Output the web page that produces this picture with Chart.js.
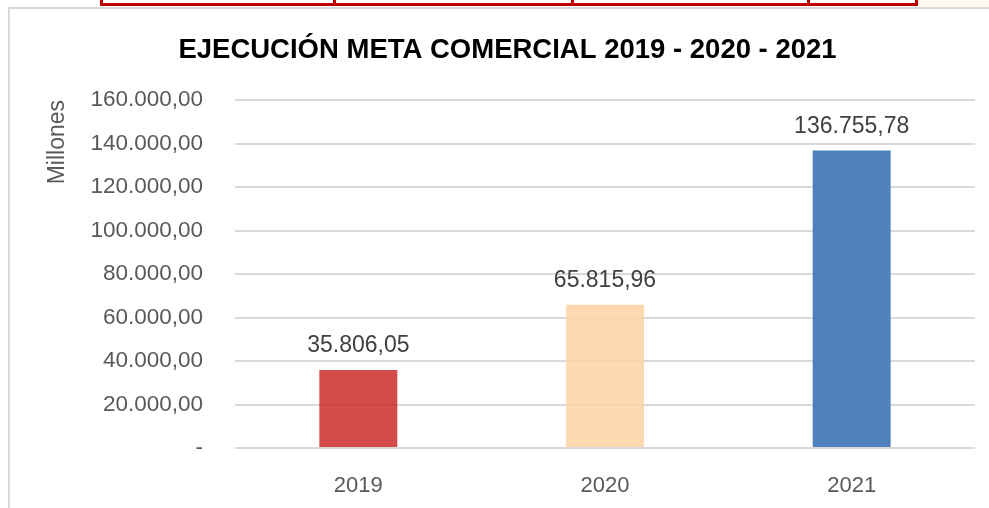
<!DOCTYPE html>
<html>
<head>
<meta charset="utf-8">
<script src="https://cdn.jsdelivr.net/npm/chart.js@4.4.0/dist/chart.umd.min.js"></script>
<style>
    html, body { margin: 0; padding: 0; background: #fff; }
    .wrap { position: relative; width: 989px; height: 508px; overflow: hidden; }
    .frame { position: absolute; left: 8px; top: 7px; width: 1000px; height: 520px; border-left: 2px solid #d9d9d9; border-top: 2px solid #d9d9d9; }
    .beige { position: absolute; left: 915px; top: 0; width: 80px; height: 7px; background: #fdf9ef; }
    .tbl { position: absolute; left: 100px; top: -10px; width: 812px; height: 13px; border: 3px solid #c00000; border-top: none; }
    .cell { position: absolute; top: -10px; width: 3px; height: 16px; background: #c00000; }
    canvas { position: absolute; left: 0; top: 0; }
</style>
</head>
<body>
<div class="wrap">
    <div class="beige"></div>
    <div class="frame"></div>
    <div class="tbl"></div>
    <div class="cell" style="left:333px"></div>
    <div class="cell" style="left:571px"></div>
    <div class="cell" style="left:807px"></div>
    <canvas id="metaChart" width="989" height="508"></canvas>
</div>
<script>
const years = ["2019", "2020", "2021"];
const ejecucion = [35806.05, 65815.96, 136755.78];
const barColors = ["rgba(204, 44, 44, 0.85)", "rgba(253, 209, 162, 0.85)", "#4f81bd"];
const yTickLabels = ["-", "20.000,00", "40.000,00", "60.000,00", "80.000,00", "100.000,00", "120.000,00", "140.000,00", "160.000,00"];

const fam = "'Liberation Sans', Arial, sans-serif";

function fmt(v) {
    const parts = v.toFixed(2).split(".");
    return parts[0].replace(/\B(?=(\d{3})+(?!\d))/g, ".") + "," + parts[1];
}

// etiquetas de valor encima de cada barra
const valueLabels = {
    id: "valueLabels",
    afterDatasetsDraw(chart) {
        const ctx = chart.ctx;
        const meta = chart.getDatasetMeta(0);
        ctx.save();
        ctx.font = "23px " + fam;
        ctx.fillStyle = "#404040";
        ctx.textAlign = "center";
        ctx.textBaseline = "alphabetic";
        meta.data.forEach((bar, i) => {
            ctx.fillText(fmt(ejecucion[i]), bar.x, bar.y - 18);
        });
        ctx.restore();
    }
};

const ctx = document.getElementById("metaChart").getContext("2d");

new Chart(ctx, {
    type: "bar",
    data: {
        labels: years,
        datasets: [{
            label: "Ejecución",
            data: ejecucion,
            backgroundColor: barColors,
            borderWidth: 0,
            barPercentage: 0.316,
            categoryPercentage: 1
        }]
    },
    options: {
        responsive: false,
        animation: false,
        layout: {
            padding: { left: 40, right: 14, top: 0, bottom: 0 }
        },
        scales: {
            y: {
                min: 0,
                max: 160000,
                afterFit: (scale) => { scale.width = 195; },
                ticks: {
                    stepSize: 20000,
                    padding: 32,
                    color: "#595959",
                    font: { family: fam, size: 22.5 },
                    callback: (value, index) => yTickLabels[index]
                },
                grid: {
                    color: "#d9d9d9",
                    lineWidth: 2,
                    drawTicks: false
                },
                border: { display: false },
                title: {
                    display: true,
                    text: "Millones",
                    align: "end",
                    color: "#595959",
                    font: { family: fam, size: 23 }
                }
            },
            x: {
                afterFit: (scale) => { scale.height = 60; },
                ticks: {
                    padding: 25,
                    color: "#595959",
                    font: { family: fam, size: 22 }
                },
                grid: { display: false, drawTicks: false },
                border: { display: false }
            }
        },
        plugins: {
            legend: { display: false },
            tooltip: { enabled: false },
            title: {
                display: true,
                text: "EJECUCIÓN META COMERCIAL 2019 - 2020 - 2021",
                color: "#000000",
                font: { family: fam, size: 27.5, weight: "bold" },
                padding: { top: 34, bottom: 33 }
            }
        }
    },
    plugins: [valueLabels]
});
</script>
</body>
</html>
